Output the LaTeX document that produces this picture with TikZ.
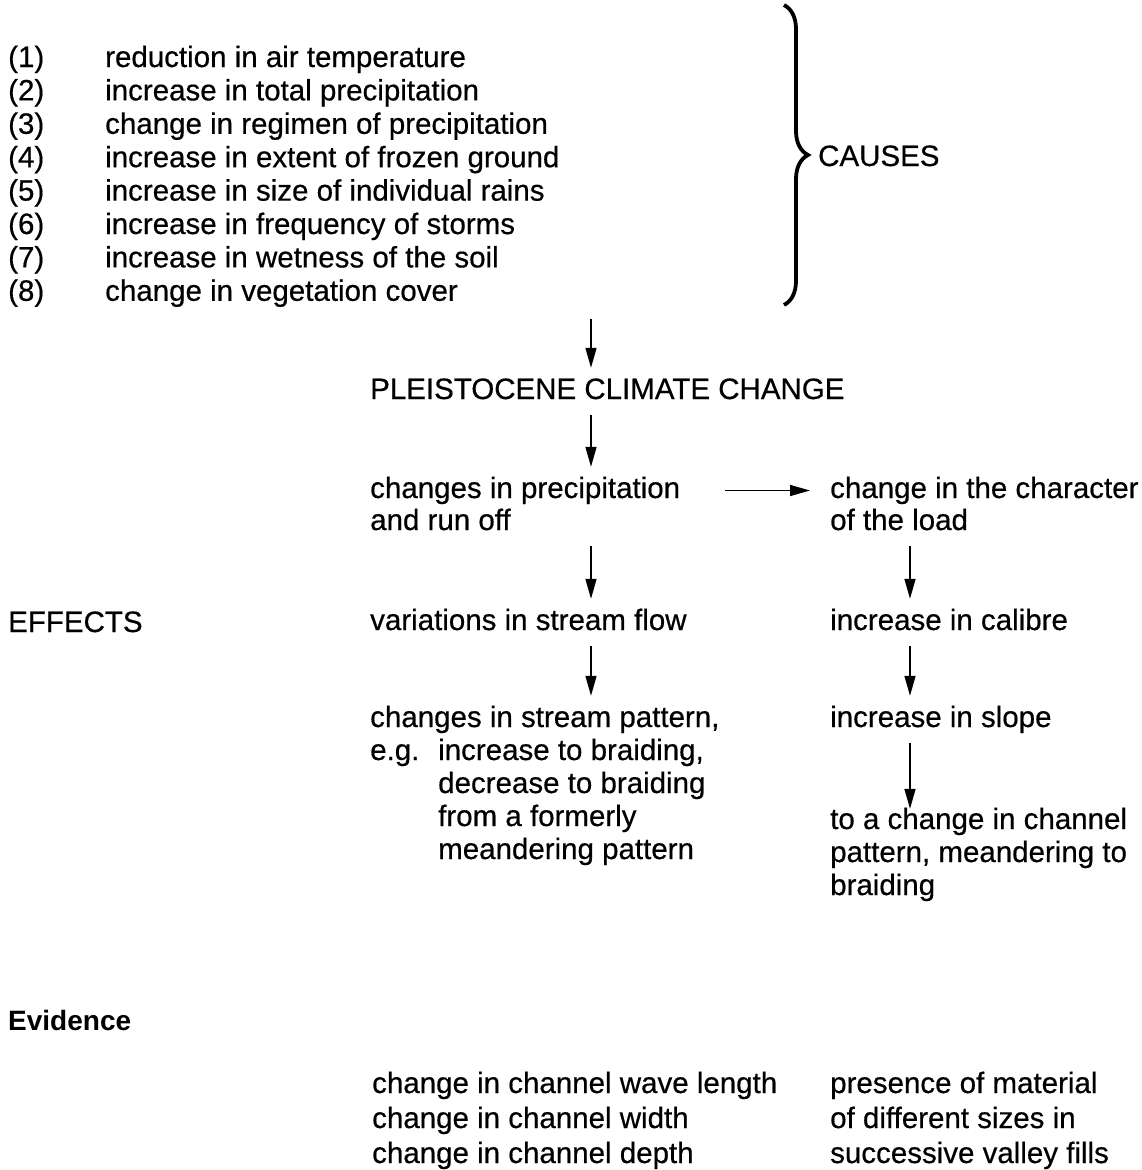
\documentclass[tikz,border=0pt]{standalone}
\usepackage{fontspec}
\setmainfont{Liberation Sans}
\newfontfamily\bodyfont{Liberation Sans}[FakeBold=0.5]
\usetikzlibrary{arrows.meta,decorations.pathreplacing}

\tikzset{
  txt/.style={anchor=base west, inner sep=0pt, text height=22pt, text depth=7pt,
              font=\bodyfont\fontsize{29.5}{33}\selectfont},
  head/.style={txt, font=\bfseries\fontsize{28}{33}\selectfont},
  arr/.style={line width=1.6pt, -{Triangle[length=20pt,width=11pt]},
              shorten <=9pt, shorten >=9pt},
  bracestyle/.style={line width=3.8pt, decorate,
              decoration={brace, amplitude=24pt, raise=0pt}}
}

\begin{document}
\begin{tikzpicture}[x=1pt,y=-1pt]
  \useasboundingbox (0,0) rectangle (1142,1170);

  % list of causes
  \foreach \n/\t [count=\k from 0] in {
      1/reduction in air temperature,
      2/increase in total precipitation,
      3/change in regimen of precipitation,
      4/increase in extent of frozen ground,
      5/increase in size of individual rains,
      6/increase in frequency of storms,
      7/increase in wetness of the soil,
      8/change in vegetation cover}{
    \node[txt] (num\n) at (8,{67+33.4*\k}) {(\n)};
    \node[txt] (cause\n) at (105,{67+33.4*\k}) {\t};
  }

  % brace grouping the causes
  \coordinate (braceTop) at (784,5);
  \coordinate (braceBot) at (784,305);
  \draw[bracestyle] (braceTop) -- (braceBot);
  \node[txt] (causes) at (818,166) {CAUSES};

  % main column of effects
  \coordinate (colL) at (591,0);
  \coordinate (colR) at (910,0);
  \coordinate (start) at (591,319);

  \node[txt] (pcc) at (370,399) {PLEISTOCENE CLIMATE CHANGE};

  \node[txt] (prec1) at (370,498) {changes in precipitation};
  \node[txt] (prec2) at (370,530) {and run off};

  \node[txt] (char1) at (830,498) {change in the character};
  \node[txt] (char2) at (830,530) {of the load};

  \node[txt] (effects) at (8,632) {EFFECTS};
  \node[txt] (flow) at (370,630) {variations in stream flow};
  \node[txt] (calibre) at (830,630) {increase in calibre};

  \node[txt] (pat1) at (370,727) {changes in stream pattern,};
  \node[txt] (eg) at (370,760) {e.g.};
  \node[txt] (pat2) at (438,760) {increase to braiding,};
  \node[txt] (pat3) at (438,793) {decrease to braiding};
  \node[txt] (pat4) at (438,826) {from a formerly};
  \node[txt] (pat5) at (438,859) {meandering pattern};

  \node[txt] (slope) at (830,727) {increase in slope};

  \node[txt] (chan1) at (830,829) {to a change in channel};
  \node[txt] (chan2) at (830,862) {pattern, meandering to};
  \node[txt] (chan3) at (830,895) {braiding};

  % evidence
  \node[head] (evidence) at (8,1030) {Evidence};

  \node[txt] (ev1) at (372,1093) {change in channel wave length};
  \node[txt] (ev2) at (372,1128) {change in channel width};
  \node[txt] (ev3) at (372,1163) {change in channel depth};

  \node[txt] (ev4) at (830,1093) {presence of material};
  \node[txt] (ev5) at (830,1128) {of different sizes in};
  \node[txt] (ev6) at (830,1163) {successive valley fills};

  % connectors
  \draw[arr, shorten <=0pt] (start) -- (pcc.north -| colL);
  \draw[arr] (pcc.south -| colL) -- (prec1.north -| colL);
  \draw[arr] (prec2.south -| colL) -- (flow.north -| colL);
  \draw[arr] (flow.south -| colL) -- (pat1.north -| colL);

  \draw[arr, shorten <=45pt, shorten >=20pt] (prec1.east) -- (prec1.east -| char1.west);

  \draw[arr] (char2.south -| colR) -- (calibre.north -| colR);
  \draw[arr] (calibre.south -| colR) -- (slope.north -| colR);
  \draw[arr, shorten >=-2pt] (slope.south -| colR) -- (chan1.north -| colR);
\end{tikzpicture}
\end{document}
